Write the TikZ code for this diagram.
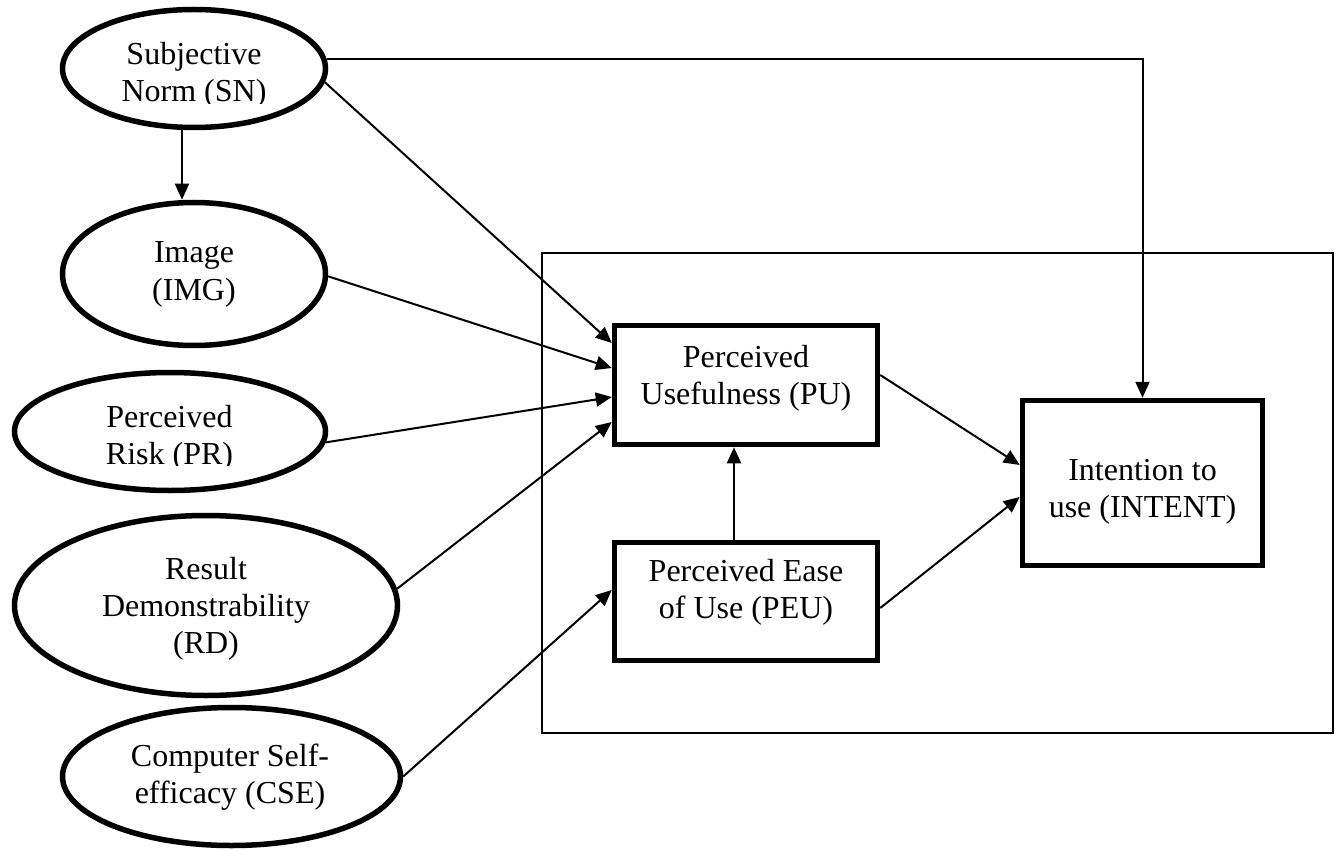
\documentclass[tikz,border=0pt]{standalone}
\usepackage{fontspec}
\setmainfont{Liberation Serif}
\usetikzlibrary{shapes.geometric,arrows.meta}
\tikzset{
  ell/.style={draw, ellipse, line width=5.5pt, inner sep=0pt},
  boxn/.style={draw, rectangle, line width=5.5pt, inner sep=0pt},
  frm/.style={draw, rectangle, line width=1.7pt, inner sep=0pt},
  txt/.style={align=center, inner sep=0pt, font=\fontsize{32}{37}\selectfont},
  conn/.style={line width=2pt, -{Triangle[length=16pt,width=14pt]}},
}
\begin{document}
\begin{tikzpicture}[x=1pt,y=-1pt]
\useasboundingbox (0,0) rectangle (1338,850);

% outer frame
\node[frm, minimum width=791pt, minimum height=480pt] (frame) at (937.5,493) {};

% ellipses
\node[ell, minimum width=263pt, minimum height=118pt] (SN)  at (194,68.5) {};
\node[ell, minimum width=263pt, minimum height=143pt] (IMG) at (194,274) {};
\node[ell, minimum width=311pt, minimum height=118pt] (PR)  at (170,431.5) {};
\node[ell, minimum width=383pt, minimum height=180pt] (RD)  at (206,605.5) {};
\node[ell, minimum width=338pt, minimum height=138pt] (CSE) at (231.5,776.5) {};

% ellipse texts
\begin{scope}
  \clip (0,0) rectangle (540,103.5);
  \node[txt] (SNt) at (194,76.1) {\strut Subjective\\Norm (SN)\strut};
\end{scope}
\node[txt] (IMGt) at (194,274.1) {\strut Image\\(IMG)\strut};
\begin{scope}
  \clip (0,380) rectangle (540,465);
  \node[txt] (PRt) at (169.5,438.1) {\strut Perceived\\Risk (PR)\strut};
\end{scope}
\node[txt] (RDt) at (206,609.3) {\strut Result\\Demonstrability\\(RD)\strut};
\node[txt] (CSEt) at (230,777.6) {\strut Computer Self-\\efficacy (CSE)\strut};

% boxes
\node[boxn, minimum width=263pt, minimum height=119pt] (PU)  at (746,385) {};
\node[boxn, minimum width=263pt, minimum height=118pt] (PEU) at (746,601.5) {};
\node[boxn, minimum width=240pt, minimum height=165pt] (INT) at (1142.5,483) {};

\node[txt] (PUt)  at (746,378.6) {\strut Perceived\\Usefulness (PU)\strut};
\node[txt] (PEUt) at (746,592.6) {\strut Perceived Ease\\of Use (PEU)\strut};
\node[txt] (INTt) at (1142.5,491.1) {\strut Intention to\\use (INTENT)\strut};

% connectors
\draw[conn] ([xshift=-12pt]SN.south) -- ([xshift=-12pt]IMG.north);
\draw[conn] (SN.4) -| (INT.north);
\draw[conn] (SN.-6) -- ([yshift=42pt]PU.west);
\draw[conn] (IMG.-1) -- ([yshift=17pt]PU.west);
\draw[conn] (PR.-4) -- ([yshift=-12pt]PU.west);
\draw[conn] (RD.5.5) -- ([yshift=-37pt]PU.west);
\draw[conn] (CSE.east) -- ([yshift=11.5pt]PEU.west);
\draw[conn] ([xshift=-12pt]PEU.north) -- ([xshift=-12pt]PU.south);
\draw[conn] ([yshift=10pt]PU.east) -- ([yshift=18pt]INT.west);
\draw[conn] ([yshift=-6.5pt]PEU.east) -- ([yshift=-14pt]INT.west);
\end{tikzpicture}
\end{document}
